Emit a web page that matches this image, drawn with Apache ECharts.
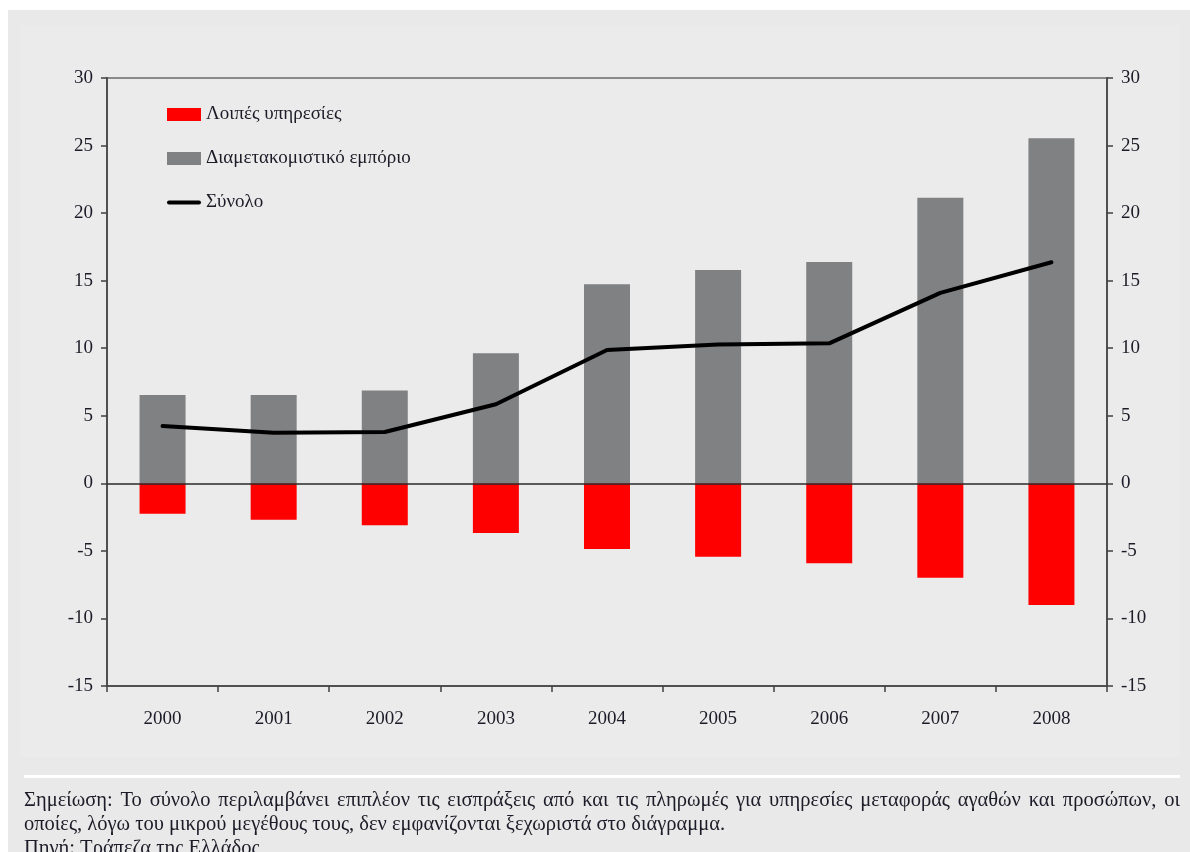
<!DOCTYPE html>
<html><head><meta charset="utf-8">
<script src="https://cdn.jsdelivr.net/npm/echarts@6/dist/echarts.min.js"></script>
<style>html,body{margin:0;padding:0;background:#fff}#c{width:1190px;height:852px}</style>
</head><body><div id="c"></div>
<script>
const years = ['2000','2001','2002','2003','2004','2005','2006','2007','2008'];
const otherServices = [-2.25, -2.7, -3.1, -3.68, -4.86, -5.43, -5.92, -6.98, -9.0];
const transitTrade = [6.53, 6.53, 6.88, 9.62, 14.73, 15.79, 16.38, 21.14, 25.54];
const total = [4.24, 3.75, 3.8, 5.85, 9.87, 10.27, 10.36, 14.1, 16.36];
const seriesNames = ['Λοιπές υπηρεσίες', 'Διαμετακομιστικό εμπόριο', 'Σύνολο'];
const yMin = -15, yMax = 30, yStep = 5;
const noteLine1 = 'Σημείωση: Το σύνολο περιλαμβάνει επιπλέον τις εισπράξεις από και τις πληρωμές για υπηρεσίες μεταφοράς αγαθών και προσώπων, οι';
const noteLine2 = 'οποίες, λόγω του μικρού μεγέθους τους, δεν εμφανίζονται ξεχωριστά στο διάγραμμα.';
const noteLine3 = 'Πηγή: Τράπεζα της Ελλάδος';

const FONT = '"Liberation Serif", "DejaVu Serif", serif';
const textColor = '#1c1c28';
const NOTE_SIZE = 20.5;

// justified first line of the note
function justifiedWords(text, left, right, y, size) {
  const cv = document.createElement('canvas').getContext('2d');
  cv.font = size + 'px ' + FONT;
  const words = text.split(' ');
  const widths = words.map(w => cv.measureText(w).width);
  const sum = widths.reduce((a, b) => a + b, 0);
  const gap = (right - left - sum) / (words.length - 1);
  let x = left;
  return words.map((w, i) => {
    const el = { type: 'text', x: x, y: y, z: 10, silent: true,
      style: { text: w, font: size + 'px ' + FONT, fill: textColor, verticalAlign: 'middle' } };
    x += widths[i] + gap;
    return el;
  });
}

const chart = echarts.init(document.getElementById('c'));
const axisLineStyle = { color: '#505050', width: 2 };
const yAxisCommon = {
  type: 'value', min: yMin, max: yMax, interval: yStep,
  splitLine: { show: false },
  axisLine: { show: true, lineStyle: axisLineStyle },
  axisTick: { show: true, length: 6, lineStyle: { color: '#404040', width: 1.5 } },
  axisLabel: { fontFamily: FONT, fontSize: 19, color: textColor, margin: 14 }
};

const graphics = [
  { type: 'rect', shape: { x: 8, y: 10, width: 1182, height: 842 }, style: { fill: '#e9e9e9' }, z: -100, silent: true },
  { type: 'rect', shape: { x: 20, y: 25, width: 1160, height: 732 }, style: { fill: '#ebebeb' }, z: -99, silent: true },
  { type: 'rect', shape: { x: 24, y: 775, width: 1156, height: 3 }, style: { fill: '#ffffff' }, z: -98, silent: true },
  ...justifiedWords(noteLine1, 24, 1180, 801, NOTE_SIZE),
  { type: 'text', x: 24, y: 825, z: 10, silent: true, style: { text: noteLine2, font: NOTE_SIZE + 'px ' + FONT, fill: textColor, verticalAlign: 'middle' } },
  { type: 'text', x: 24, y: 849, z: 10, silent: true, style: { text: noteLine3, font: NOTE_SIZE + 'px ' + FONT, fill: textColor, verticalAlign: 'middle' } }
];

chart.setOption({
  backgroundColor: '#ffffff',
  animation: false,
  graphic: graphics,
  grid: { left: 107, right: 83, top: 78, bottom: 166, show: true, borderColor: '#8a8a8a', borderWidth: 2, backgroundColor: 'transparent' },
  legend: {
    orient: 'vertical', left: 167, top: 105, padding: 0,
    itemWidth: 34, itemHeight: 13, itemGap: 25,
    symbolKeepAspect: true,
    data: [
      { name: seriesNames[0], icon: 'rect' },
      { name: seriesNames[1], icon: 'rect' },
      { name: seriesNames[2], icon: 'path://M2,0 L32,0 A2,2 0 0 1 32,4 L2,4 A2,2 0 0 1 2,0 Z',
        itemStyle: { color: '#000000' } }
    ],
    textStyle: { fontFamily: FONT, fontSize: 19, color: textColor },
    selectedMode: false
  },
  xAxis: {
    type: 'category', data: years, boundaryGap: true,
    axisLine: { show: true, onZero: false, lineStyle: axisLineStyle },
    axisTick: { show: true, length: 6, lineStyle: { color: '#404040', width: 1.5 } },
    axisLabel: { fontFamily: FONT, fontSize: 19, color: textColor, margin: 24 }
  },
  yAxis: [
    Object.assign({}, yAxisCommon, { position: 'left' }),
    Object.assign({}, yAxisCommon, { position: 'right' })
  ],
  series: [
    {
      name: seriesNames[0], type: 'bar', data: otherServices, barWidth: 46, barGap: '-100%',
      itemStyle: { color: '#ff0000' },
      markLine: { silent: true, symbol: 'none', label: { show: false },
        lineStyle: { color: '#2a2a2a', width: 1.5, type: 'solid' }, data: [{ yAxis: 0 }] },
      z: 2
    },
    {
      name: seriesNames[1], type: 'bar', data: transitTrade, barWidth: 46,
      itemStyle: { color: '#808183' }, z: 2
    },
    {
      name: seriesNames[2], type: 'line', data: total, symbol: 'none',
      lineStyle: { color: '#000000', width: 4, cap: 'round', join: 'round' },
      itemStyle: { color: '#000000' }, z: 5
    }
  ]
});
</script>
</body></html>
